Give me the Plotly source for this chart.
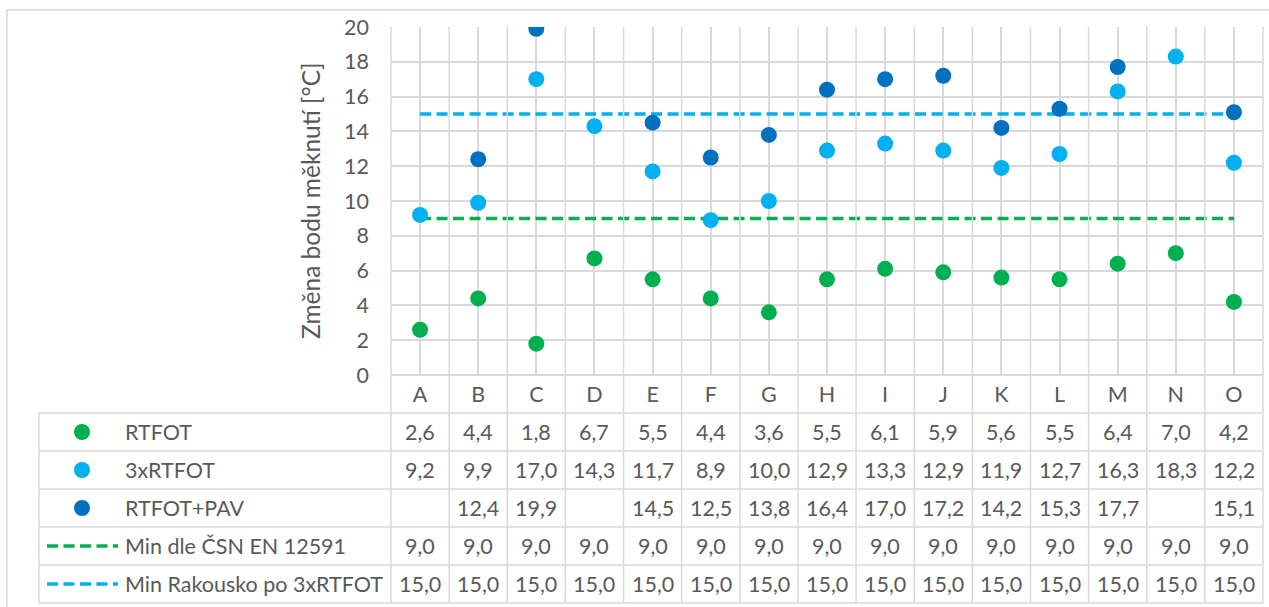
import plotly.graph_objects as go

# ---- data ----
categories = ["A", "B", "C", "D", "E", "F", "G", "H", "I", "J", "K", "L", "M", "N", "O"]
rtfot = [2.6, 4.4, 1.8, 6.7, 5.5, 4.4, 3.6, 5.5, 6.1, 5.9, 5.6, 5.5, 6.4, 7.0, 4.2]
rtfot3x = [9.2, 9.9, 17.0, 14.3, 11.7, 8.9, 10.0, 12.9, 13.3, 12.9, 11.9, 12.7, 16.3, 18.3, 12.2]
rtfot_pav = [None, 12.4, 19.9, None, 14.5, 12.5, 13.8, 16.4, 17.0, 17.2, 14.2, 15.3, 17.7, None, 15.1]
min_csn = [9.0] * 15
min_at = [15.0] * 15

series_names = ["RTFOT", "3xRTFOT", "RTFOT+PAV", "Min dle ČSN EN 12591", "Min Rakousko po 3xRTFOT"]
y_title = "Změna bodu měknutí [°C]"

# ---- style ----
W, H = 1269, 607
FONT = "Lato"
TXT = "#595959"
GRID = "#D9D9D9"
C_GREEN = "#00B050"
C_LBLUE = "#00B0F0"
C_DBLUE = "#0070C0"
FS = 21.5
FS_TITLE = 24.5

# plot area in pixels
PL, PR, PT, PB = 391, 1263, 27, 375
TABLE_LEFT = 39
ROW_TOP = 413
ROW_H = 38
N = len(categories)
COL_W = (PR - PL) / N


def px(x):
    return x / W


def py(y):
    return 1 - y / H


fig = go.Figure()

dash = "11px,5.5px"
fig.add_trace(go.Scatter(x=list(range(N)), y=min_csn, mode="lines",
                         line=dict(color=C_GREEN, width=3.5, dash=dash), name=series_names[3]))
fig.add_trace(go.Scatter(x=list(range(N)), y=min_at, mode="lines",
                         line=dict(color=C_LBLUE, width=3.5, dash=dash), name=series_names[4]))
for vals, col, nm in [(rtfot, C_GREEN, series_names[0]),
                      (rtfot3x, C_LBLUE, series_names[1]),
                      (rtfot_pav, C_DBLUE, series_names[2])]:
    fig.add_trace(go.Scatter(x=list(range(N)), y=vals, mode="markers",
                             marker=dict(color=col, size=16, line=dict(width=0)), name=nm))

shapes = []
# outer chart frame
shapes.append(dict(type="rect", xref="paper", yref="paper", x0=px(7), x1=px(W + 10),
                   y0=py(H + 10), y1=py(10), line=dict(color=GRID, width=1.5)))

lw = 1.5
# column boundaries (through plot, category row and table)
for k in range(N + 1):
    xb = PL + k * COL_W
    shapes.append(dict(type="line", xref="paper", yref="paper", x0=px(xb), x1=px(xb),
                       y0=py(PT), y1=py(ROW_TOP + 5 * ROW_H), line=dict(color=GRID, width=lw)))
# table left edge
shapes.append(dict(type="line", xref="paper", yref="paper", x0=px(TABLE_LEFT), x1=px(TABLE_LEFT),
                   y0=py(ROW_TOP), y1=py(ROW_TOP + 5 * ROW_H), line=dict(color=GRID, width=lw)))
# table row lines
for r in range(6):
    yl = ROW_TOP + r * ROW_H
    shapes.append(dict(type="line", xref="paper", yref="paper", x0=px(TABLE_LEFT), x1=px(PR),
                       y0=py(yl), y1=py(yl), line=dict(color=GRID, width=lw)))

annotations = []
row_series = [rtfot, rtfot3x, rtfot_pav, min_csn, min_at]
row_colors = [C_GREEN, C_LBLUE, C_DBLUE, C_GREEN, C_LBLUE]
for r, (vals, col, nm) in enumerate(zip(row_series, row_colors, series_names)):
    yc = ROW_TOP + r * ROW_H + ROW_H / 2
    # legend key
    if r < 3:
        rad = 8
        shapes.append(dict(type="circle", xref="paper", yref="paper",
                           x0=px(82 - rad), x1=px(82 + rad), y0=py(yc + rad), y1=py(yc - rad),
                           fillcolor=col, line=dict(width=0)))
    else:
        shapes.append(dict(type="line", xref="paper", yref="paper",
                           x0=px(47), x1=px(118), y0=py(yc), y1=py(yc),
                           line=dict(color=col, width=3.5, dash=dash)))
    annotations.append(dict(text=nm, xref="paper", yref="paper", x=px(123), y=py(yc),
                            xanchor="left", yanchor="middle", showarrow=False,
                            font=dict(family=FONT, size=FS, color=TXT)))
    for i, v in enumerate(vals):
        if v is None:
            continue
        annotations.append(dict(text=f"{v:.1f}".replace(".", ","), xref="x", yref="paper",
                                x=i, y=py(yc), xanchor="center", yanchor="middle",
                                showarrow=False, font=dict(family=FONT, size=FS, color=TXT)))

# y axis title
annotations.append(dict(text=y_title, xref="paper", yref="paper", x=px(310), y=py((PT + PB) / 2),
                        textangle=-90, xanchor="center", yanchor="middle", showarrow=False,
                        font=dict(family=FONT, size=FS_TITLE, color=TXT)))

fig.update_layout(
    width=W, height=H,
    margin=dict(l=0, r=0, t=0, b=0, autoexpand=False),
    paper_bgcolor="white", plot_bgcolor="white",
    showlegend=False,
    shapes=shapes,
    annotations=annotations,
    font=dict(family=FONT, size=FS, color=TXT),
    xaxis=dict(domain=[px(PL), px(PR)], range=[-0.5, N - 0.5], automargin=False,
               tickmode="array", tickvals=list(range(N)), ticktext=categories,
               showgrid=True, gridcolor=GRID, gridwidth=lw, zeroline=False,
               showline=False, ticks="", ticklabelstandoff=4,
               tickfont=dict(family=FONT, size=FS, color=TXT)),
    yaxis=dict(domain=[py(PB), py(PT)], range=[0, 20], dtick=2, tick0=0, automargin=False,
               showgrid=True, gridcolor=GRID, gridwidth=lw,
               zeroline=True, zerolinecolor=GRID, zerolinewidth=lw,
               showline=False, ticks="", ticklabelstandoff=21,
               tickfont=dict(family=FONT, size=FS, color=TXT)),
)

fig.write_html("out.html")
